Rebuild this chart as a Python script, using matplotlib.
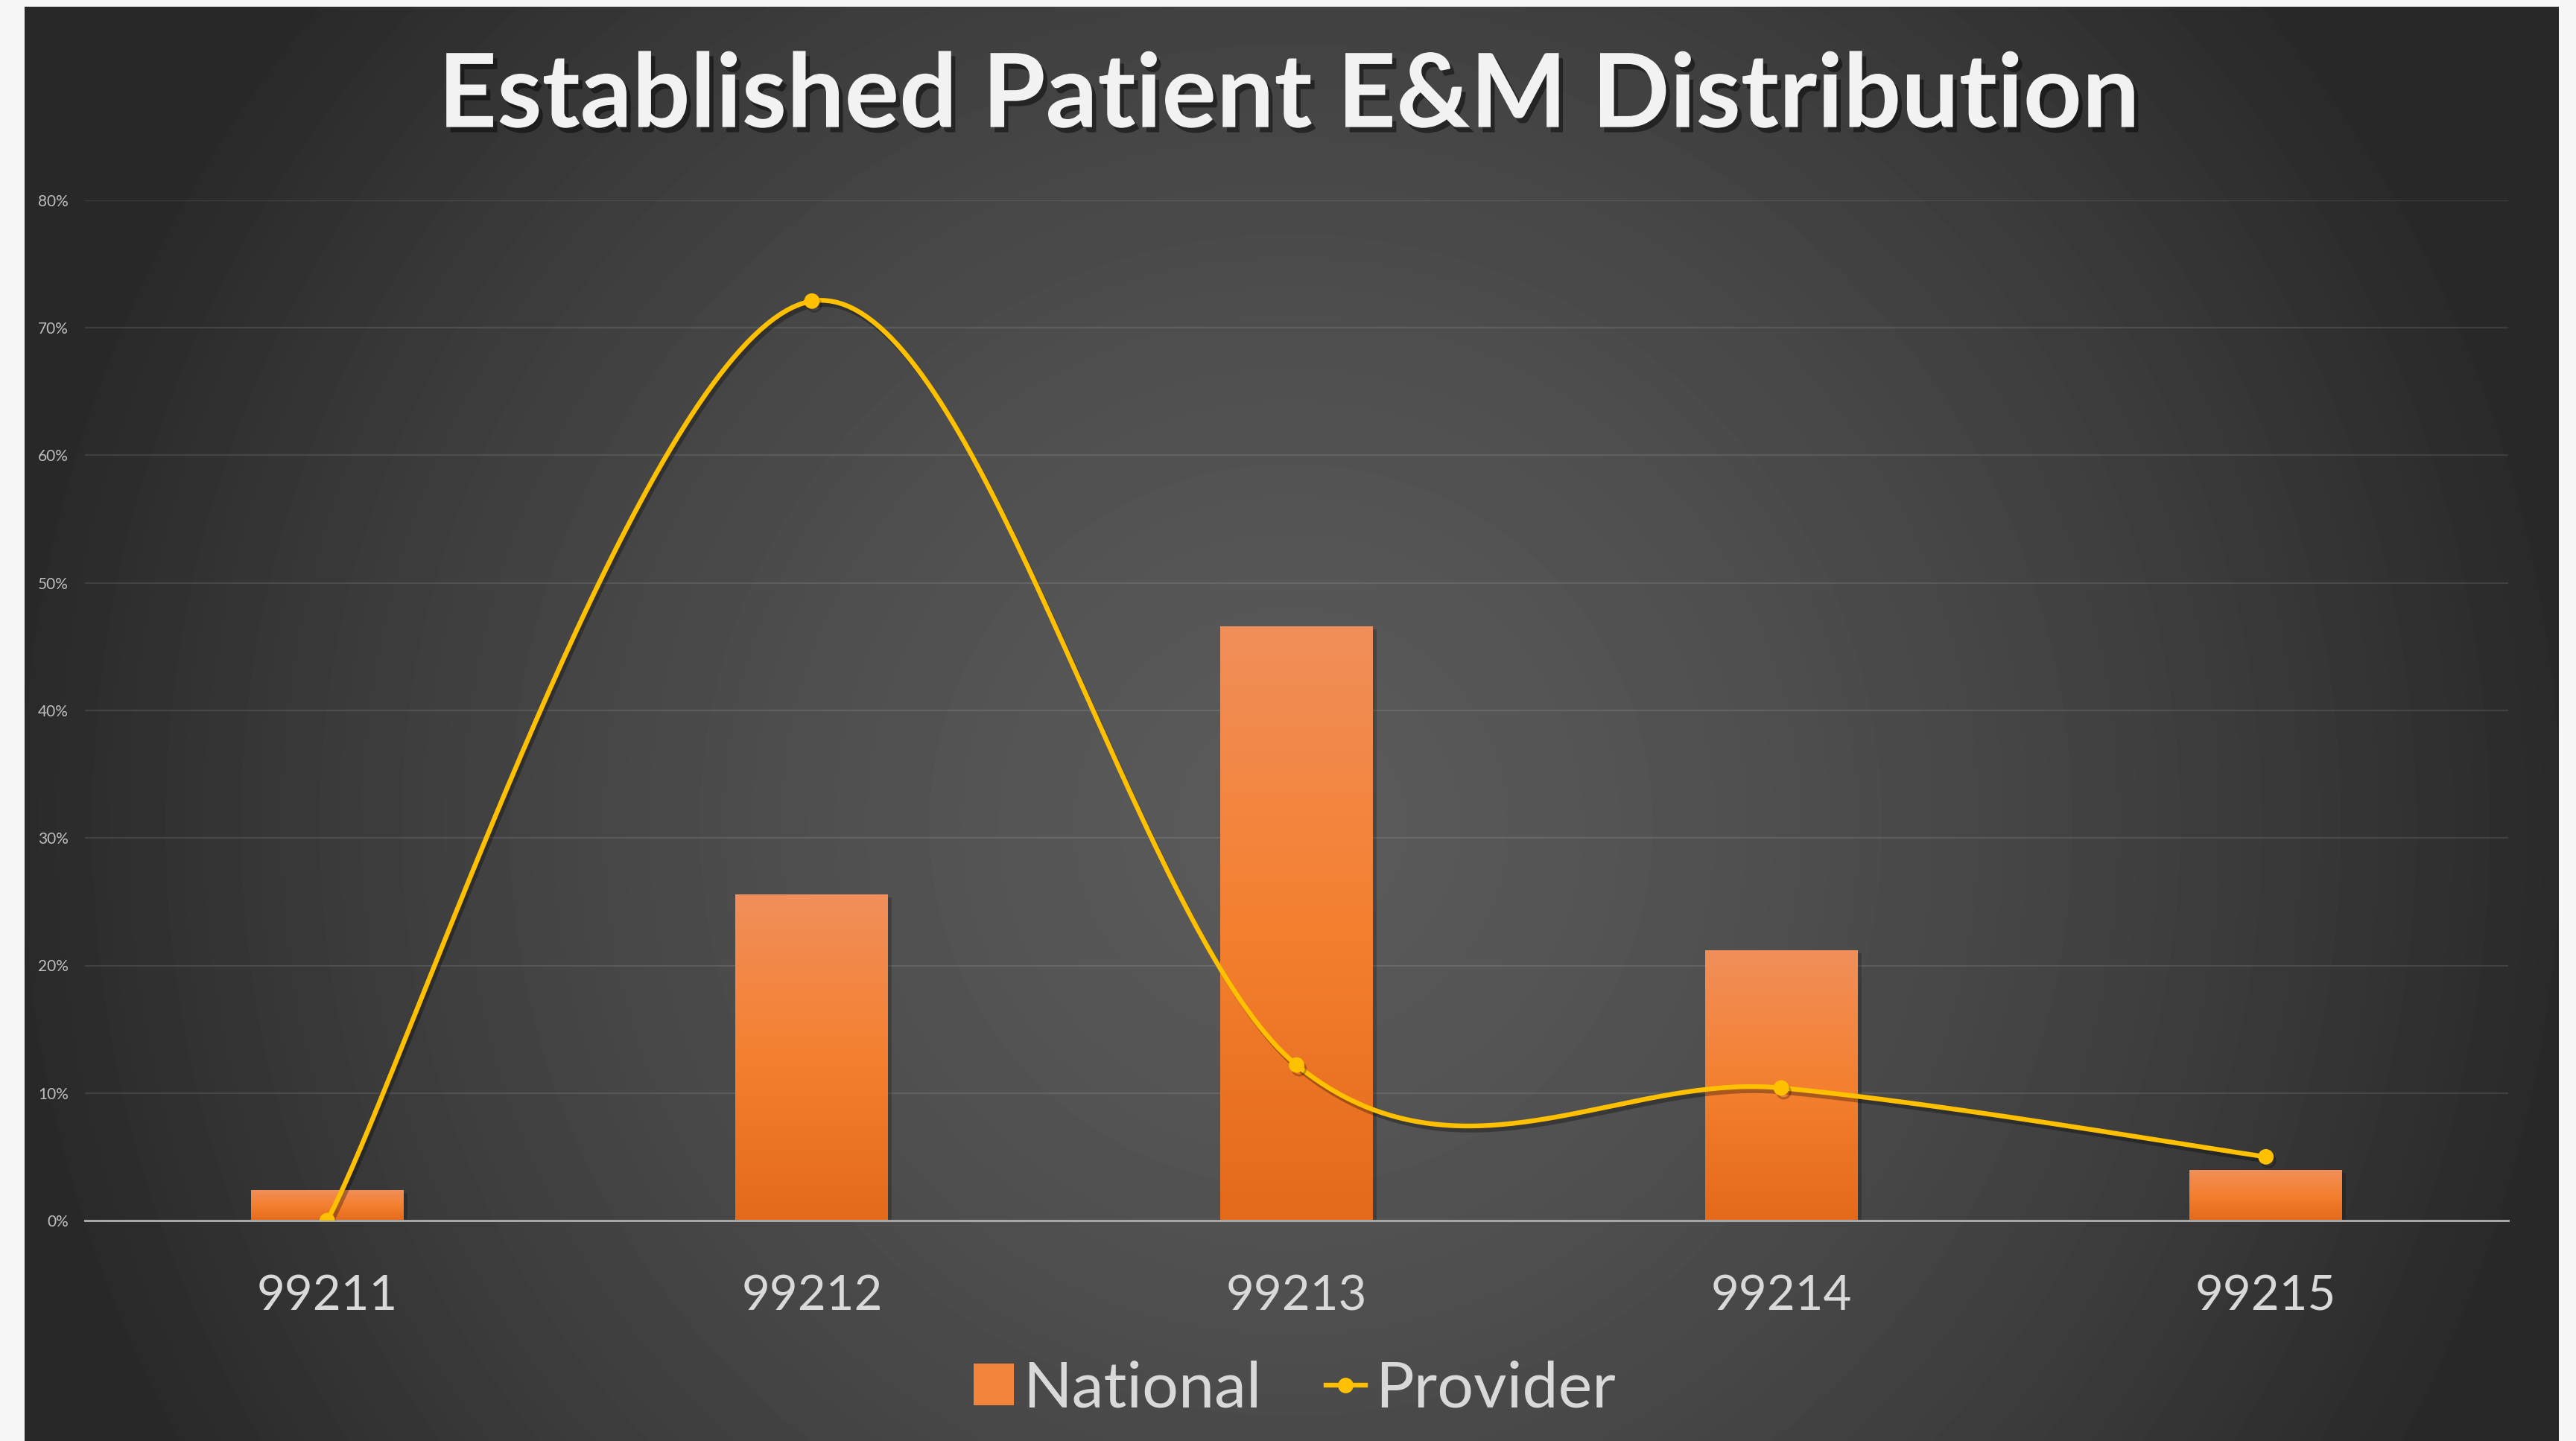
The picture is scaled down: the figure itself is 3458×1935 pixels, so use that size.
import numpy as np
import matplotlib
matplotlib.use("Agg")
import matplotlib.pyplot as plt
import matplotlib.patheffects as pe
from matplotlib.patches import Patch
from matplotlib.lines import Line2D
from matplotlib.ticker import PercentFormatter

plt.rcParams['font.family'] = ['Lato', 'DejaVu Sans']

# data
categories = ["99211", "99212", "99213", "99214", "99215"]
national = [0.024, 0.256, 0.466, 0.212, 0.040]
provider = [0.000, 0.721, 0.122, 0.104, 0.050]
title = "Established Patient E&M Distribution"

W, H = 3458, 1935
DPI = 200
fig = plt.figure(figsize=(W / DPI, H / DPI), dpi=DPI, facecolor="#f7f7f7")

# dark panel with a soft radial gradient
px0, py0, px1 = 33, 9, 3435
bg = fig.add_axes([px0 / W, 0, (px1 - px0) / W, (H - py0) / H])
gx = np.linspace(0, px1 - px0, 700)
gy = np.linspace(0, H - py0, 400)
XX, YY = np.meshgrid(gx, gy)
d = np.hypot(XX - 1700, YY - 1100)
v = (90 - 50 * np.clip(d / 1750, 0, 1) ** 1.5) / 255
bg.imshow(v, cmap="gray", vmin=0, vmax=1, extent=[0, 1, 0, 1], origin="upper",
          aspect="auto", interpolation="bilinear")
bg.axis("off")

# plot area
ax = fig.add_axes([114 / W, 1 - 1639 / H, (3367 - 114) / W, (1639 - 269) / H])
ax.patch.set_alpha(0)
x = np.arange(len(categories))

bars = ax.bar(x, national, width=0.315, color="#F3843B", zorder=2,
              path_effects=[pe.SimplePatchShadow(offset=(1.8, -1.5), shadow_rgbFace="k", alpha=0.2),
                            pe.Normal()])

# vertical gradient on each bar
grad_cols = np.array([[241, 143, 90], [244, 128, 48], [228, 106, 26]]) / 255
t = np.linspace(0, 1, 100)
grad = np.stack([np.interp(t, [0, 0.5, 1], grad_cols[:, k]) for k in range(3)], axis=-1)[:, None, :]
for b in bars:
    x0, w, h = b.get_x(), b.get_width(), b.get_height()
    im = ax.imshow(grad, extent=[x0, x0 + w, 0, h], origin="upper", aspect="auto",
                   interpolation="bilinear", zorder=2.5)
    im.set_clip_path(b)


def excel_smooth(xv, yv, n=80):
    pts = np.column_stack([xv, yv])
    P = np.vstack([pts[0], pts, pts[-1]])
    segs = []
    tt = np.linspace(0, 1, n)[:, None]
    for i in range(1, len(P) - 2):
        p0, p1, p2, p3 = P[i - 1], P[i], P[i + 1], P[i + 2]
        c1 = p1 + (p2 - p0) / 6
        c2 = p2 - (p3 - p1) / 6
        segs.append((1 - tt) ** 3 * p1 + 3 * (1 - tt) ** 2 * tt * c1
                    + 3 * (1 - tt) * tt ** 2 * c2 + tt ** 3 * p2)
    return np.vstack(segs)


curve = excel_smooth(x, provider)
gold = "#FFC000"
ax.plot(curve[:, 0], curve[:, 1], color=gold, lw=2.3, zorder=4, solid_capstyle="round",
        path_effects=[pe.SimpleLineShadow(offset=(1.2, -2), alpha=0.3), pe.Normal()])
ax.plot(x, provider, "o", color=gold, ms=6.5, zorder=5,
        path_effects=[pe.SimpleLineShadow(offset=(1.2, -1.8), alpha=0.25), pe.Normal()])

ax.set_xlim(-0.5, len(categories) - 0.5)
ax.set_ylim(0, 0.8)
ax.set_yticks(np.arange(0, 0.81, 0.1))
ax.yaxis.set_major_formatter(PercentFormatter(1.0, decimals=0))
ax.set_xticks(x, categories)
ax.grid(axis="y", color="white", alpha=0.1, lw=0.8, zorder=0)
ax.set_axisbelow(True)
for s in ["top", "right", "left"]:
    ax.spines[s].set_visible(False)
ax.spines["bottom"].set_color("#a6a6a6")
ax.spines["bottom"].set_linewidth(1.1)
ax.spines["bottom"].set_zorder(3)
ax.tick_params(axis="y", length=0, pad=8, labelsize=7.5, labelcolor="#bfbfbf")
ax.tick_params(axis="x", length=0, pad=26, labelsize=23.5, labelcolor="#d9d9d9")

fig.text(0.5006, 0.9325, title, ha="center", va="center", fontsize=49.5, fontweight="bold",
         color="#f2f2f2",
         path_effects=[pe.withSimplePatchShadow(offset=(2, -2.5), shadow_rgbFace="k", alpha=0.45)])

handles = [Patch(facecolor="#F3843B", edgecolor="none"),
           Line2D([], [], color=gold, lw=2.3, marker="o", ms=6.5)]
leg = fig.legend(handles, ["National", "Provider"], loc="center", bbox_to_anchor=(0.5026, 0.036),
                 ncol=2, frameon=False, fontsize=31, handlelength=0.62, handleheight=0.63,
                 handletextpad=0.15, columnspacing=1.0, labelcolor="#d9d9d9")

fig.savefig("out.png", dpi=DPI, facecolor=fig.get_facecolor())
